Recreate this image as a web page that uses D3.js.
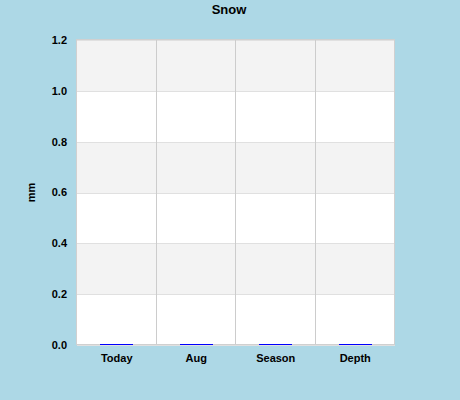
<!DOCTYPE html>
<html>
<head>
<meta charset="utf-8">
<script src="https://cdn.jsdelivr.net/npm/d3@7"></script>
<style>
  html, body { margin: 0; padding: 0; background: #add8e6; }
  text { font-family: "Liberation Sans", Arial, sans-serif; font-weight: bold; fill: #000; }
</style>
</head>
<body>
<div id="chart"></div>
<script>
const categories = ['Today', 'Aug', 'Season', 'Depth'];
const snowValues = [0, 0, 0, 0];
const yTicks = [0, 0.2, 0.4, 0.6, 0.8, 1.0, 1.2];

const width = 460,
  height = 400,
  margin = {top: 40, right: 65, bottom: 55, left: 77};

const svg = d3.select('#chart').append('svg')
  .attr('width', width)
  .attr('height', height)
  .attr('shape-rendering', 'crispEdges');

const x = d3.scaleBand()
  .domain(categories)
  .range([margin.left, width - margin.right])
  .paddingInner(0)
  .paddingOuter(0);

const y = d3.scaleLinear()
  .domain([0, 1.2])
  .range([height - margin.bottom, margin.top]);

// plot background + alternating bands
svg.append('rect')
  .attr('x', margin.left)
  .attr('y', margin.top)
  .attr('width', width - margin.left - margin.right)
  .attr('height', height - margin.top - margin.bottom)
  .style('fill', '#fff');

svg.append('g')
  .selectAll('rect')
  .data(yTicks.slice(0, -1))
  .enter().append('rect')
  .filter((d, i) => i % 2 === 1)
  .attr('x', margin.left)
  .attr('y', (d, i) => y(d + 0.2))
  .attr('width', width - margin.left - margin.right)
  .attr('height', d => y(d) - y(d + 0.2))
  .style('fill', '#f3f3f3');

// horizontal grid
svg.append('g')
  .selectAll('line')
  .data(yTicks)
  .enter().append('line')
  .attr('x1', margin.left)
  .attr('x2', width - margin.right)
  .attr('y1', d => Math.round(y(d)) + 0.5)
  .attr('y2', d => Math.round(y(d)) + 0.5)
  .style('stroke', '#e0e0e0');

// vertical grid between categories
svg.append('g')
  .selectAll('line')
  .data(categories.slice(1))
  .enter().append('line')
  .attr('x1', d => Math.round(x(d)) - 0.5)
  .attr('x2', d => Math.round(x(d)) - 0.5)
  .attr('y1', margin.top)
  .attr('y2', height - margin.bottom)
  .style('stroke', '#cccccc');

// plot border
svg.append('rect')
  .attr('x', margin.left - 0.5)
  .attr('y', margin.top - 0.5)
  .attr('width', width - margin.left - margin.right)
  .attr('height', height - margin.top - margin.bottom)
  .style('fill', 'none')
  .style('stroke', '#d0d0d0');

// bars (min 1px so zero values show)
const barW = x.bandwidth() * 0.41;
svg.append('g')
  .selectAll('rect')
  .data(snowValues)
  .enter().append('rect')
  .attr('x', (d, i) => Math.round(x(categories[i]) + (x.bandwidth() - barW) / 2))
  .attr('y', d => Math.round(Math.min(y(d), y(0) - 1)))
  .attr('width', Math.round(barW))
  .attr('height', d => Math.max(Math.round(y(0) - y(d)), 1))
  .style('fill', '#0000ff');

// y tick labels
svg.append('g')
  .selectAll('text')
  .data(yTicks)
  .enter().append('text')
  .attr('x', margin.left - 10)
  .attr('y', d => y(d))
  .attr('dy', '0.35em')
  .attr('text-anchor', 'end')
  .style('font-size', '11px')
  .text(d => d.toFixed(1));

// x labels
svg.append('g')
  .selectAll('text')
  .data(categories)
  .enter().append('text')
  .attr('x', d => x(d) + x.bandwidth() / 2)
  .attr('y', height - margin.bottom + 17)
  .attr('text-anchor', 'middle')
  .style('font-size', '11px')
  .text(d => d);

// title
svg.append('text')
  .attr('x', 229)
  .attr('y', 14)
  .attr('text-anchor', 'middle')
  .style('font-size', '13px')
  .text('Snow');

// y axis title
svg.append('text')
  .attr('transform', 'translate(35,' + (margin.top + (height - margin.top - margin.bottom) / 2) + ') rotate(-90)')
  .attr('text-anchor', 'middle')
  .style('font-size', '11px')
  .text('mm');
</script>
</body>
</html>
